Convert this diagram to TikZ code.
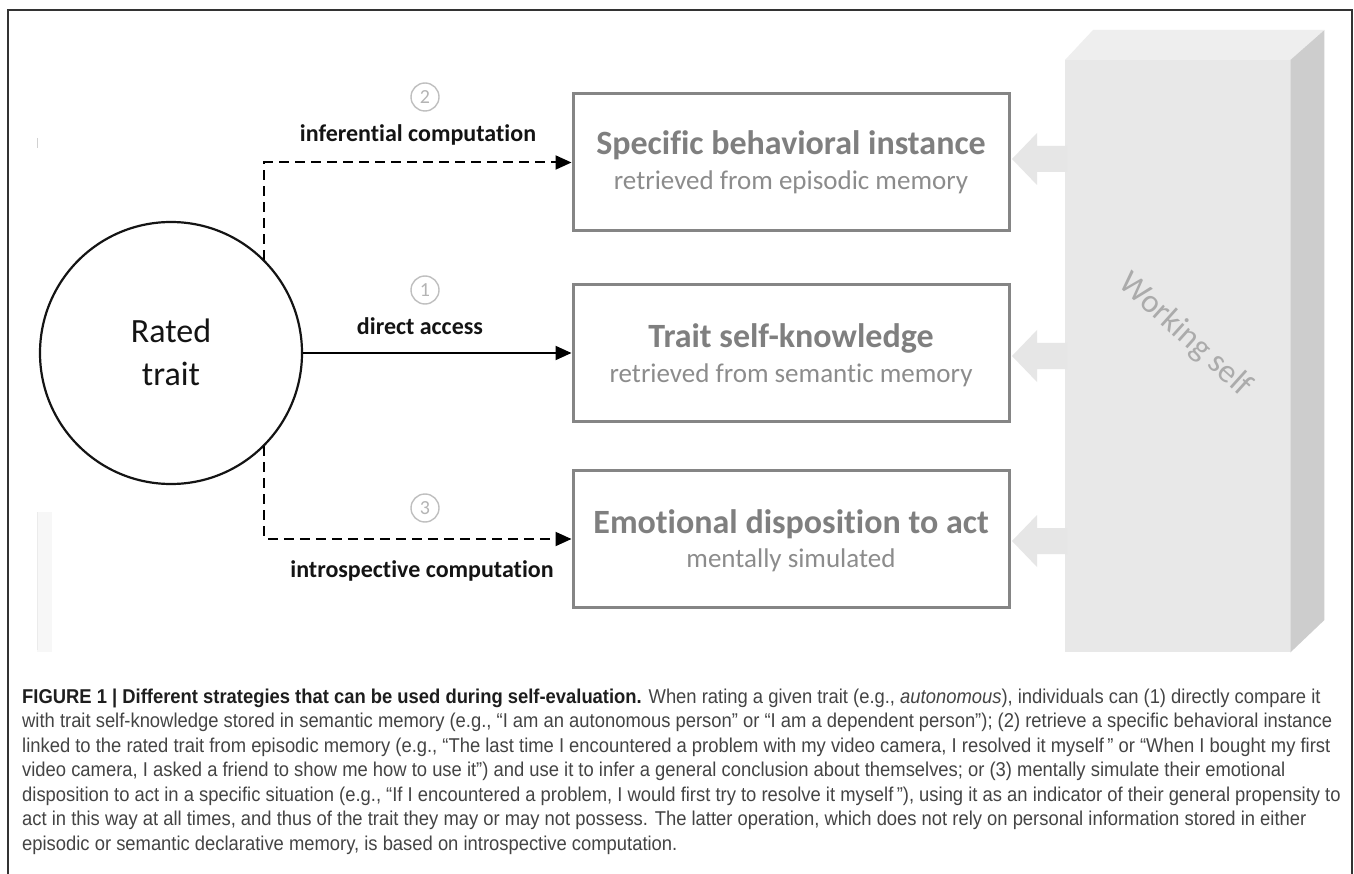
\documentclass[tikz,border=0pt]{standalone}
\usepackage{fontspec}
\setmainfont{Carlito}[Ligatures=NoCommon]
\newfontfamily\capfont[FakeStretch=0.92]{Liberation Sans}
\usetikzlibrary{arrows.meta}
\definecolor{boxgray}{HTML}{858585}
\definecolor{titlegray}{HTML}{7F7F7F}
\definecolor{subgray}{HTML}{8C8C8C}
\definecolor{frontgray}{HTML}{E8E8E8}
\definecolor{topgray}{HTML}{EEEEEE}
\definecolor{sidegray}{HTML}{CDCDCD}
\definecolor{arrowgray}{HTML}{E6E6E6}
\definecolor{wsgray}{HTML}{ABABAB}
\definecolor{numgray}{HTML}{B4B4B4}
\definecolor{capgray}{HTML}{444444}
\definecolor{capbold}{HTML}{1E1E1E}
\definecolor{framegray}{HTML}{333333}
\begin{document}
\begin{tikzpicture}[x=1pt,y=-1pt,
  membox/.style={draw=boxgray, line width=3pt, minimum width=436pt, minimum height=137pt, inner sep=0pt},
  boxtitle/.style={font=\bfseries\fontsize{34}{40}\selectfont, text=titlegray, inner sep=0pt, anchor=base},
  boxsub/.style={font=\fontsize{27}{32}\selectfont, text=subgray, inner sep=0pt, anchor=base},
  pathlabel/.style={font=\bfseries\fontsize{24}{28}\selectfont, text=black!92, inner sep=0pt, anchor=base},
  numcirc/.style={circle, draw=numgray!85, line width=1.4pt, minimum size=28pt, inner sep=0pt, text=numgray, font=\fontsize{20}{24}\selectfont},
  link/.style={line width=2pt, -{Triangle[length=16pt,width=14pt]}},
  dashlink/.style={link, dash pattern=on 10pt off 6pt},
  blockarrow/.style={fill=arrowgray},
  capline/.style={anchor=base west, inner sep=0pt, font=\capfont\fontsize{20}{24}\selectfont, text=capgray},
  traittext/.style={font=\fontsize{34}{40}\selectfont, text=black!92, inner sep=0pt, anchor=base}
]
\useasboundingbox (0,0) rectangle (1354,874);
\fill[white] (0,0) rectangle (1354,874);

% frame
\draw[framegray, line width=1.5pt] (8,874) -- (8,10) -- (1352,10) -- (1352,874);

% faint scan artefacts on the left
\draw[black!18, line width=1pt] (37,138) -- (37,148);
\fill[black!3] (37,512) rectangle (52,652);
\draw[black!8, line width=1pt] (37,512) -- (37,650);

% working self block
\node[fill=frontgray, minimum width=225pt, minimum height=592pt, inner sep=0pt, anchor=north west] (wsfront) at (1065,60) {};
\fill[topgray] (wsfront.north west) -- ++(28,-30) -- ++(231,0) -- (wsfront.north east) -- cycle;
\fill[sidegray] (wsfront.north east) -- ++(34,-30) -- ++(0,590) -- (wsfront.south east) -- cycle;
\node[rotate=-42, text=wsgray, font=\fontsize{33}{38}\selectfont, inner sep=0pt] (wslabel) at (1185,335) {Working self};

% memory boxes
\node[membox] (box1) at (791,162.5) {};
\node[membox] (box2) at (791,353) {};
\node[membox] (box3) at (791,539) {};

\node[boxtitle] (b1t) at (791,155) {Specific behavioral instance};
\node[boxsub]   (b1s) at (791,190) {retrieved from episodic memory};
\node[boxtitle] (b2t) at (791,348) {Trait self-knowledge};
\node[boxsub]   (b2s) at (791,382) {retrieved from semantic memory};
\node[boxtitle] (b3t) at (791,533) {Emotional disposition to act};
\node[boxsub]   (b3s) at (791,567) {mentally simulated};

% block arrows from working self
\fill[blockarrow] ([xshift=1.5pt,yshift=3.5pt]box1.east) -- ++(25,-26) -- ++(0,13) -- ++(30,0) -- ++(0,26) -- ++(-30,0) -- ++(0,13) -- cycle;
\fill[blockarrow] ([xshift=1.5pt,yshift=-3pt]box2.east) -- ++(25,-26) -- ++(0,13) -- ++(30,0) -- ++(0,26) -- ++(-30,0) -- ++(0,13) -- cycle;
\fill[blockarrow] ([xshift=1.5pt,yshift=-2pt]box3.east) -- ++(25,-26) -- ++(0,13) -- ++(30,0) -- ++(0,26) -- ++(-30,0) -- ++(0,13) -- cycle;

% rated trait
\node[circle, draw=black!92, line width=2.2pt, minimum size=262pt, inner sep=0pt] (trait) at (171,353) {};
\node[traittext] (tt1) at (171,343) {Rated};
\node[traittext] (tt2) at (171,385) {trait};

% connectors
\draw[dashlink] (trait.45) |- (box1.west);
\draw[link] (trait.east) -- (box2.west);
\draw[dashlink] (trait.-45) |- (box3.west);

% labels
\node[numcirc] (n2) at (425,97) {2};
\node[pathlabel] (l2) at (418,142) {inferential computation};
\node[numcirc] (n1) at (425,290) {1};
\node[pathlabel] (l1) at (420,335) {direct access};
\node[numcirc] (n3) at (425,508) {3};
\node[pathlabel] (l3) at (422,577) {introspective computation};

% caption
\node[capline] (c1) at (22,703) {{\color{capbold}\bfseries FIGURE 1 | Different strategies that can be used during self-evaluation.} When rating a given trait (e.g., \textit{autonomous}), individuals can (1) directly compare it};
\node[capline] (c2) at (22,727.5) {with trait self-knowledge stored in semantic memory (e.g., “I am an autonomous person” or “I am a dependent person”); (2) retrieve a specific behavioral instance};
\node[capline] (c3) at (22,752) {linked to the rated trait from episodic memory (e.g., “The last time I encountered a problem with my video camera, I resolved it myself\,” or “When I bought my first};
\node[capline] (c4) at (22,776.5) {video camera, I asked a friend to show me how to use it”) and use it to infer a general conclusion about themselves; or (3) mentally simulate their emotional};
\node[capline] (c5) at (22,801) {disposition to act in a specific situation (e.g., “If I encountered a problem, I would first try to resolve it myself\,”), using it as an indicator of their general propensity to};
\node[capline] (c6) at (22,825.5) {act in this way at all times, and thus of the trait they may or may not possess. The latter operation, which does not rely on personal information stored in either};
\node[capline] (c7) at (22,850) {episodic or semantic declarative memory, is based on introspective computation.};
\end{tikzpicture}
\end{document}
